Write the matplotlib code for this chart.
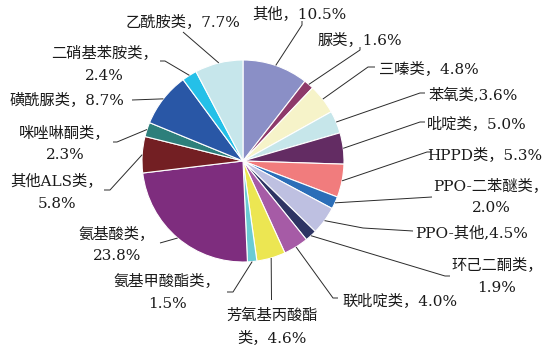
import numpy as np
import matplotlib
matplotlib.use("Agg")
import matplotlib.pyplot as plt

plt.rcParams['font.family'] = ['DejaVu Serif', 'Noto Sans CJK SC', 'DejaVu Sans']

categories = ["其他", "脲类", "三嗪类", "苯氧类", "吡啶类", "HPPD类", "PPO-二苯醚类",
              "PPO-其他", "环己二酮类", "联吡啶类", "芳氧基丙酸酯类", "氨基甲酸酯类",
              "氨基酸类", "其他ALS类", "咪唑啉酮类", "磺酰脲类", "二硝基苯胺类", "乙酰胺类"]
values = [10.5, 1.6, 4.8, 3.6, 5.0, 5.3, 2.0, 4.5, 1.9, 4.0, 4.6, 1.5, 23.8, 5.8, 2.3, 8.7, 2.4, 7.7]
labels = ["其他，10.5%", "脲类，1.6%", "三嗪类，4.8%", "苯氧类,3.6%", "吡啶类，5.0%",
          "HPPD类，5.3%", "PPO-二苯醚类，\n2.0%", "PPO-其他,4.5%", "环己二酮类，\n1.9%",
          "联吡啶类，4.0%", "芳氧基丙酸酯\n类，4.6%", "氨基甲酸酯类，\n1.5%",
          "氨基酸类，\n23.8%", "其他ALS类，\n5.8%", "咪唑啉酮类，\n2.3%", "磺酰脲类，8.7%",
          "二硝基苯胺类，\n2.4%", "乙酰胺类，7.7%"]
colors = ["#8A8FC6", "#8E3A6A", "#F6F3C9", "#C6E6EA", "#632C63", "#F17C7D", "#2B6EB8",
          "#BEC0E1", "#2E3463", "#A65BA6", "#ECE652", "#6ACBD4", "#7E2D7E", "#731F23",
          "#2D7F7B", "#2957A6", "#24C0E8", "#C6E6EB"]

W, H = 556, 353
fig = plt.figure(figsize=(W / 100, H / 100), dpi=100)
ax = fig.add_axes([0, 0, 1, 1])

cx, cy, R = 243, H - 161, 101
ax.pie(values, colors=colors, startangle=90, counterclock=False, center=(cx, cy),
       radius=R, wedgeprops=dict(edgecolor='white', linewidth=0.8), frame=True)
ax.set_xlim(0, W)
ax.set_ylim(0, H)
ax.set_aspect('equal')
ax.axis('off')

# label layout: text center (img coords) and leader path points (img coords) after pie edge
layout = [
    ((299, 14), [(302, 25), (302, 21)]),
    ((360, 40), [(360, 50), (360, 47)]),
    ((429, 69), [(368, 67), (375, 67)]),
    ((473, 95), [(420, 93), (425, 93)]),
    ((477, 124), [(420, 122), (425, 122)]),
    ((485, 155), [(427, 152), (432, 152)]),
    ((491, 197.5), [(432, 197)]),
    ((472, 233), [(363, 228), (413, 231)]),
    ((497, 276.5), [(445, 276), (450, 276)]),
    ((400, 301), [(333, 298), (338, 298)]),
    ((272, 327), [(271.5, 300)]),
    ((167, 292.5), [(233, 292), (227, 292)]),
    ((117, 245), [(160, 243)]),
    ((57, 192.5), [(110, 190), (104, 190)]),
    ((65, 144), [(117, 142), (113, 142)]),
    ((67, 100), [(132, 100)]),
    ((104, 64.5), [(165, 61), (160, 61)]),
    ((183, 22), [(183, 32)]),
]

cum = np.cumsum([0] + values[:-1])
total = sum(values)
for v, c0, lab, (tpos, path) in zip(values, cum, labels, layout):
    ang = np.deg2rad(90 - 360 * (c0 + v / 2) / total)
    sx, sy = cx + R * np.cos(ang), cy + R * np.sin(ang)
    xs = [sx] + [p[0] for p in path]
    ys = [sy] + [H - p[1] for p in path]
    ax.plot(xs, ys, color='#2a2a2a', lw=0.7, solid_capstyle='butt')
    lines = lab.split("\n")
    n = len(lines)
    for i, ln in enumerate(lines):
        yy = tpos[1] + (i - (n - 1) / 2) * 22
        ax.text(tpos[0], H - yy, ln, ha='center', va='center', fontsize=11, color='#1a1a1a')

fig.savefig("out.png", dpi=100)
